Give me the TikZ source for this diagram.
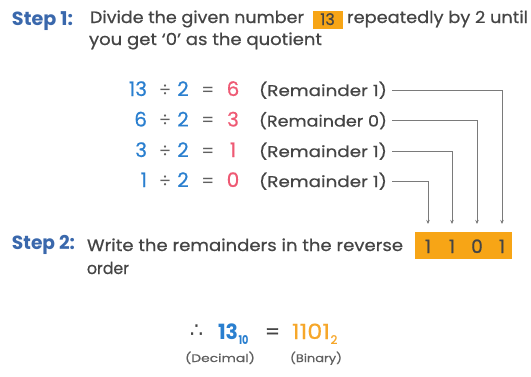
\documentclass[tikz,border=0pt]{standalone}
\usepackage{fontspec}
\usepackage{graphicx}
\setmainfont{Poppins}
\newfontfamily\medfont{Poppins}[FakeBold=0.6]
\newfontfamily\symfont{DejaVu Sans}
\usetikzlibrary{arrows.meta}
\newcommand{\fitw}[2]{\resizebox{#1}{\height}{#2}}
\definecolor{stepblue}{HTML}{3A68AC}
\definecolor{numblue}{HTML}{2A7FCF}
\definecolor{respink}{HTML}{EE5A74}
\definecolor{boxorange}{HTML}{F7A516}
\definecolor{binorange}{HTML}{F6A72A}
\definecolor{txtgray}{HTML}{454545}
\definecolor{opgray}{HTML}{606060}
\definecolor{linegray}{HTML}{7A7A7A}
\tikzset{
  every node/.style={inner sep=0pt, outer sep=0pt},
  steplbl/.style={anchor=base west, text=stepblue, font=\fontsize{19}{22}\selectfont\bfseries},
  body/.style={anchor=base west, text=txtgray, font=\medfont\fontsize{16.5}{19}\selectfont},
  eqnum/.style={anchor=base, text=numblue, font=\medfont\fontsize{20}{24}\selectfont},
  eqop/.style={anchor=base, text=opgray, font=\fontsize{18}{22}\selectfont},
  eqres/.style={anchor=base, text=respink, font=\medfont\fontsize{20}{24}\selectfont},
  remtxt/.style={anchor=base west, text=txtgray, font=\medfont\fontsize{15.5}{18}\selectfont},
  conn/.style={draw=linegray, line width=0.9pt},
  arr/.style={conn, -{Stealth[length=4pt,width=3.5pt]}},
  bitdig/.style={anchor=base, text=txtgray, font=\medfont\fontsize{18.5}{22}\selectfont},
  caplbl/.style={anchor=base west, text=opgray, font=\medfont\fontsize{11}{13}\selectfont},
}
\begin{document}
\begin{tikzpicture}[x=1pt,y=-1pt]
\useasboundingbox (0,0) rectangle (531,376);
% Step 1
\node[steplbl] (s1) at (12,25) {\fitw{61pt}{Step 1:}};
\node[body] (t1a) at (90,23) {\fitw{214pt}{Divide the given number}};
\node[fill=boxorange, minimum width=30pt, minimum height=18pt] (hl) at (327.5,19.5) {};
\node[anchor=base, text=txtgray, font=\medfont\fontsize{16}{18}\selectfont] (hl13) at (327.5,25) {13};
\node[body] (t1b) at (347,23) {\fitw{181pt}{repeatedly by 2 until}};
\node[body] (t1c) at (89,45) {\fitw{233pt}{you get ‘0’ as the quotient}};
% equations
\foreach \i/\a/\q/\r/\y in {1/13/6/1/96, 2/6/3/0/126.5, 3/3/1/1/157, 4/1/0/1/187}{
  \node[eqnum, anchor=base east] (d\i) at (147,\y) {\a};
  \node[eqop] (dv\i) at (165,\y) {÷};
  \node[eqnum] (two\i) at (183,\y) {2};
  \node[eqop] (eq\i) at (208,\y) {=};
  \node[eqres] (q\i) at (233,\y) {\q};
  \node[remtxt] (r\i) at (259,\y) {\fitw{128pt}{(Remainder \r)}};
}
% result box
\node[fill=boxorange, minimum width=97pt, minimum height=27pt] (box) at (463.5,245.5) {};
\node[bitdig] (b1) at (428,253) {1};
\node[bitdig] (b2) at (452,253) {1};
\node[bitdig] (b3) at (477,253) {0};
\node[bitdig] (b4) at (502,253) {1};
% connectors
\coordinate (c1) at (502,90);
\coordinate (c2) at (477,120.5);
\coordinate (c3) at (452,151);
\coordinate (c4) at (428,181);
\draw[arr] ([xshift=5pt]r1.east |- c1) -- (c1) -- (b4.north |- 0,224);
\draw[arr] ([xshift=5pt]r2.east |- c2) -- (c2) -- (b3.north |- 0,224);
\draw[arr] ([xshift=5pt]r3.east |- c3) -- (c3) -- (b2.north |- 0,224);
\draw[arr] ([xshift=5pt]r4.east |- c4) -- (c4) -- (b1.north |- 0,224);
% Step 2
\node[steplbl] (s2) at (12,249) {\fitw{63pt}{Step 2:}};
\node[body] (t2a) at (87,251) {\fitw{316pt}{Write the remainders in the reverse}};
\node[body] (t2b) at (87,274) {\fitw{42pt}{order}};
% conclusion
\node[anchor=base, text=txtgray, font=\symfont\fontsize{21}{24}\selectfont] (thf) at (196.5,337) {∴};
\node[anchor=base west, text=numblue, font=\fontsize{21}{24}\selectfont\bfseries] (dec) at (218,339) {\fitw{20pt}{13}};
\node[anchor=base west, text=numblue, font=\fontsize{12}{14}\selectfont\bfseries] (decsub) at (238.5,344) {\fitw{10pt}{10}};
\node[anchor=base, text=txtgray, font=\medfont\fontsize{21}{24}\selectfont] (eqf) at (272.5,339) {=};
\node[anchor=base west, text=binorange, font=\medfont\fontsize{21}{24}\selectfont] (bin) at (292,339) {\fitw{38pt}{1101}};
\node[anchor=base west, text=binorange, font=\medfont\fontsize{12}{14}\selectfont] (binsub) at (330.5,344) {2};
\node[caplbl] (decl) at (185,362) {\fitw{70pt}{(Decimal)}};
\node[caplbl] (binl) at (290,362) {\fitw{52pt}{(Binary)}};
\end{tikzpicture}
\end{document}
